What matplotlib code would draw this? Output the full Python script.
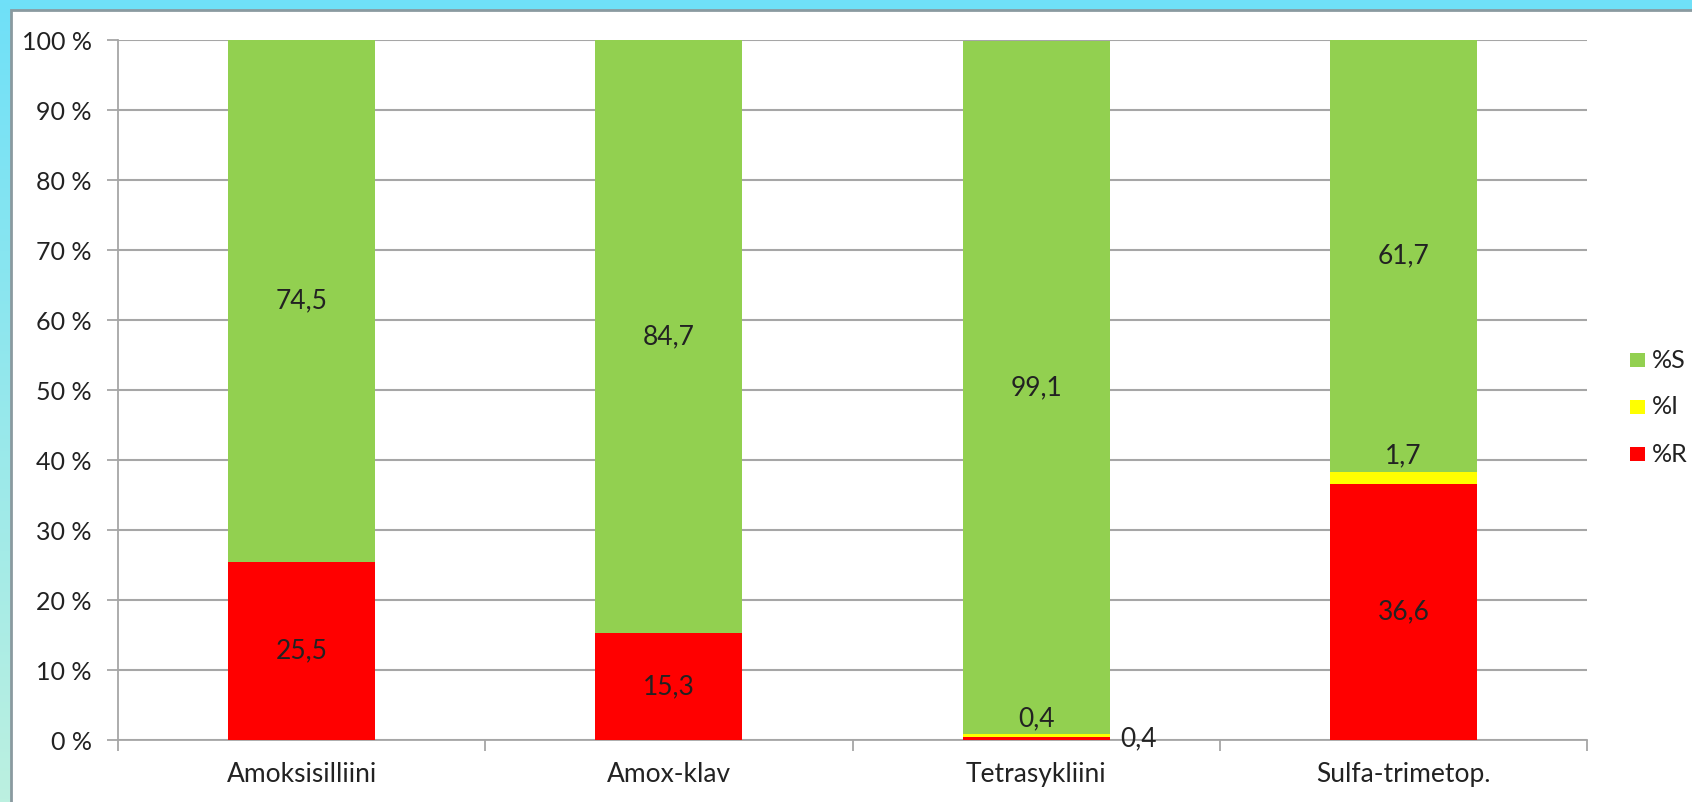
import numpy as np
import matplotlib
matplotlib.use("Agg")
import matplotlib.pyplot as plt
from matplotlib.patches import Rectangle

plt.rcParams['font.family'] = ['Lato', 'DejaVu Sans']

categories = ["Amoksisilliini", "Amox-klav", "Tetrasykliini", "Sulfa-trimetop."]
pct_R = [25.5, 15.3, 0.4, 36.6]
pct_I = [0.0, 0.0, 0.4, 1.7]
pct_S = [74.5, 84.7, 99.1, 61.7]
label_R = ["25,5", "15,3", "0,4", "36,6"]
label_I = ["", "", "0,4", "1,7"]
label_S = ["74,5", "84,7", "99,1", "61,7"]
series_names = ["%S", "%I", "%R"]
yticks = [0, 10, 20, 30, 40, 50, 60, 70, 80, 90, 100]

W, H = 1692, 802
fig = plt.figure(figsize=(W / 100, H / 100), dpi=100)

# background gradient
bg = fig.add_axes([0, 0, 1, 1])
top = np.array([0x6f, 0xe0, 0xf8]) / 255
bot = np.array([0xbc, 0xf0, 0xe0]) / 255
t = np.linspace(0, 1, 256)[:, None]
grad = top[None, :] * (1 - t) + bot[None, :] * t
bg.imshow(grad[:, None, :], aspect='auto', extent=[0, 1, 0, 1])
bg.set_xlim(0, 1); bg.set_ylim(0, 1)
bg.axis('off')
bg.add_patch(Rectangle((11 / W, -0.05), 1, 1.05 - 10 / H, transform=bg.transAxes,
                       facecolor='white', edgecolor='#8a9aa0', linewidth=2))

ax = fig.add_axes([118 / W, (H - 740) / H, 1469 / W, 700 / H])
ax.set_facecolor('none')
x = np.arange(len(categories))
bw = 0.4
green, yellow, red = '#92D050', '#FFFF00', '#FF0000'
R = np.array(pct_R); I = np.array(pct_I); S = np.array(pct_S)
ax.bar(x, R, bw, color=red, zorder=3)
ax.bar(x, I, bw, bottom=R, color=yellow, zorder=3)
ax.bar(x, S, bw, bottom=R + I, color=green, zorder=3)

fs = 19
tc = '#222222'
ax.set_xlim(-0.5, len(categories) - 0.5)
ax.set_ylim(0, 100)
ax.set_yticks(yticks)
ax.set_yticklabels([f"{v} %" for v in yticks], fontsize=18, color=tc)
ax.yaxis.grid(True, color='#A6A6A6', linewidth=1.5, zorder=0)
ax.set_axisbelow(True)
ax.tick_params(axis='y', length=8, width=1.3, color='#A6A6A6', pad=11)

ax.set_xticks(x)
ax.set_xticklabels(categories, fontsize=fs, color=tc)
ax.set_xticks(np.arange(len(categories) + 1) - 0.5, minor=True)
ax.tick_params(axis='x', which='major', length=0, pad=16)
ax.tick_params(axis='x', which='minor', length=8, width=1.3, color='#A6A6A6')
for s in ['top', 'right']:
    ax.spines[s].set_visible(False)
for s in ['left', 'bottom']:
    ax.spines[s].set_color('#A6A6A6')
    ax.spines[s].set_linewidth(1.3)

for i in range(len(categories)):
    ax.text(x[i], R[i] + I[i] + S[i] / 2, label_S[i], ha='center', va='center',
            fontsize=fs, color=tc, zorder=5)
    if R[i] >= 5:
        ax.text(x[i], R[i] / 2, label_R[i], ha='center', va='center',
                fontsize=fs, color=tc, zorder=5)
    elif label_R[i]:
        ax.text(x[i] + bw / 2 + 0.03, R[i] / 2, label_R[i], ha='left', va='center',
                fontsize=fs, color=tc, zorder=5)
    if label_I[i]:
        ax.text(x[i], R[i] + I[i] + 0.5, label_I[i], ha='center', va='bottom',
                fontsize=fs, color=tc, zorder=5)

# legend (drawn manually for exact placement)
leg_colors = [green, yellow, red]
leg_y = [360, 407, 454]
for name, col, yc in zip(series_names, leg_colors, leg_y):
    fig.patches.append(Rectangle((1630 / W, 1 - (yc + 7) / H), 15 / W, 14 / H,
                                 transform=fig.transFigure, facecolor=col,
                                 edgecolor='none'))
    fig.text(1652 / W, 1 - yc / H, name, ha='left', va='center', fontsize=18, color=tc)

fig.savefig('out.png', dpi=100)
